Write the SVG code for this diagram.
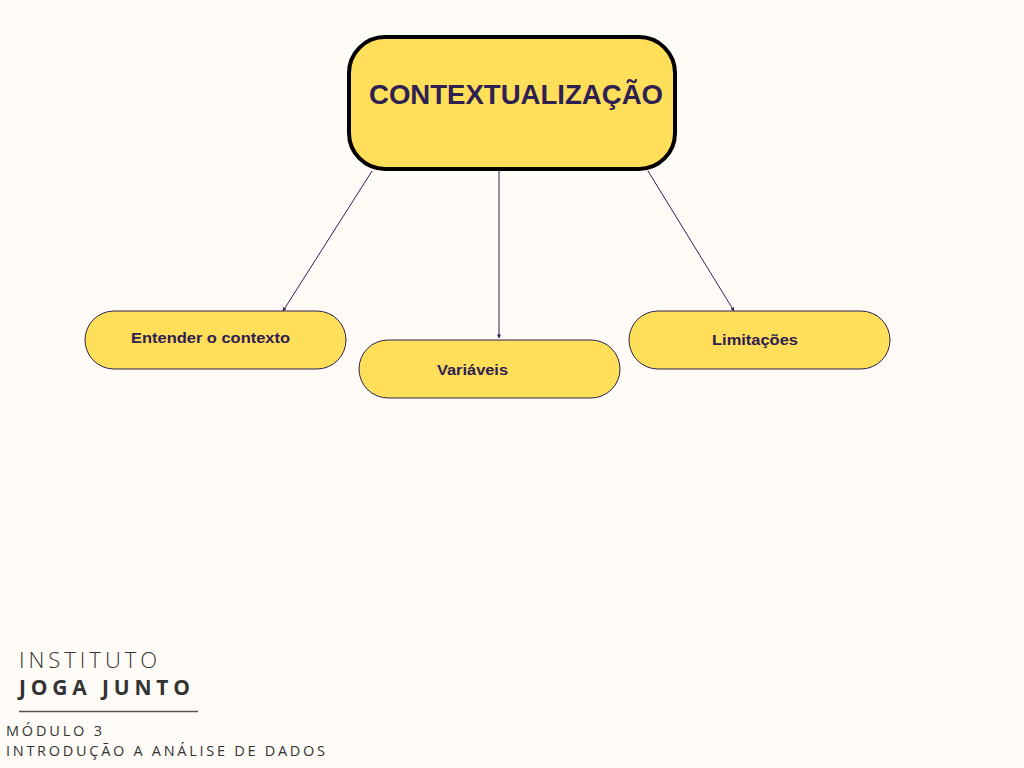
<svg xmlns="http://www.w3.org/2000/svg" width="1024" height="768" viewBox="0 0 1024 768">
<style>
.pill{fill:#FFDE59;stroke:#2E2152;stroke-width:1}
.pt{font-family:"Liberation Sans",Arial,sans-serif;font-weight:bold;font-size:15px;fill:#2E2152}
.conn{stroke:#2E2152;stroke-width:1;fill:none;marker-end:url(#ah)}
.ft{font-family:"Open Sans","Noto Sans",sans-serif;fill:#333333}
</style>
<defs>
<marker id="ah" viewBox="0 0 10 10" refX="9" refY="5" markerWidth="4" markerHeight="4" orient="auto" markerUnits="userSpaceOnUse">
<path d="M0,0 L10,5 L0,10 z" fill="#2E2152"/>
</marker>
</defs>
<rect width="1024" height="768" fill="#FFFCF7"/>
<g id="connectors">
<line class="conn" x1="372" y1="171" x2="283" y2="311"/>
<line class="conn" x1="499" y1="171" x2="499" y2="338"/>
<line class="conn" x1="648" y1="171" x2="734" y2="311"/>
</g>
<g id="main">
<rect x="349" y="37" width="326" height="132" rx="36" fill="#FFDE59" stroke="#000" stroke-width="4"/>
<text x="369" y="104" font-family="Liberation Sans,Arial,sans-serif" font-weight="bold" font-size="28" fill="#2E2152" textLength="294" lengthAdjust="spacingAndGlyphs">CONTEXTUALIZAÇÃO</text>
</g>
<g id="entender">
<rect class="pill" x="85" y="311" width="261" height="58" rx="29"/>
<text class="pt" x="131" y="343" textLength="159" lengthAdjust="spacingAndGlyphs">Entender o contexto</text>
</g>
<g id="variaveis">
<rect class="pill" x="359" y="340" width="261" height="58" rx="29"/>
<text class="pt" x="437" y="375" textLength="71" lengthAdjust="spacingAndGlyphs">Variáveis</text>
</g>
<g id="limitacoes">
<rect class="pill" x="629" y="311" width="261" height="58" rx="29"/>
<text class="pt" x="712" y="345" textLength="86" lengthAdjust="spacingAndGlyphs">Limitações</text>
</g>
<g id="footer">
<text class="ft" x="19" y="668" font-size="22" font-weight="300" textLength="138" lengthAdjust="spacing">INSTITUTO</text>
<text class="ft" x="19" y="695" font-size="21" font-weight="bold" textLength="171" lengthAdjust="spacing">JOGA JUNTO</text>
<line x1="19" y1="711.5" x2="198" y2="711.5" stroke="#555" stroke-width="1.5"/>
<text class="ft" x="6" y="736" font-size="14.5" font-weight="normal" textLength="96" lengthAdjust="spacing">MÓDULO 3</text>
<text class="ft" x="6" y="756" font-size="14.5" font-weight="normal" textLength="319" lengthAdjust="spacing">INTRODUÇÃO A ANÁLISE DE DADOS</text>
</g>
</svg>
